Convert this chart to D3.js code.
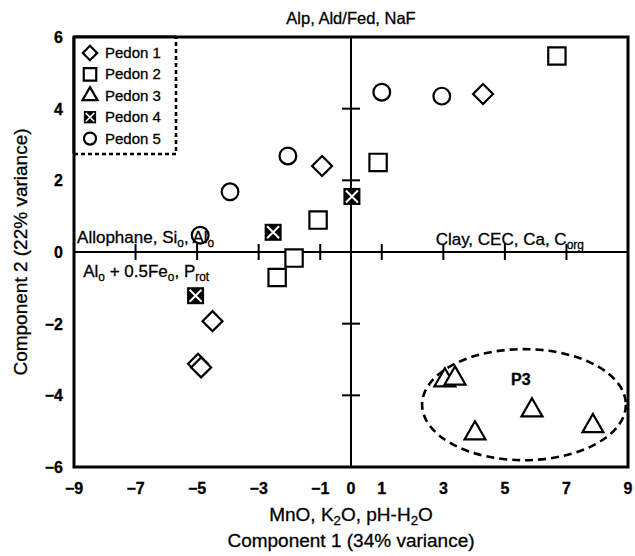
<!DOCTYPE html>
<html><head><meta charset="utf-8">
<script src="https://cdn.jsdelivr.net/npm/d3@7"></script>
<style>body{margin:0;background:#fff} text{font-family:"Liberation Sans",Arial,Helvetica,sans-serif;fill:#000;stroke:#000;stroke-width:0.3px}</style>
</head><body><svg id="c" width="635" height="556"></svg>
<script>
// ---- data ----
const xTickLabels = [-9,-7,-5,-3,-1,0,1,3,5,7,9];
const yTickLabels = [-6,-4,-2,0,2,4,6];
const xInnerTicks = [-7,-5,-3,-1,1,3,5,7];
const yInnerTicks = [-4,-2,2,4];
const pedon1 = [[4.29,4.41],[-0.94,2.4],[-4.5,-1.93],[-4.97,-3.12],[-4.87,-3.22]];
const pedon2 = [[6.69,5.47],[0.88,2.5],[-1.07,0.89],[-1.85,-0.17],[-2.4,-0.71]];
const pedon3 = [[3.05,-3.58],[3.38,-3.53],[5.88,-4.42],[4.03,-5.06],[7.86,-4.86]];
const pedon4 = [[0.03,1.55],[-2.53,0.55],[-5.05,-1.22]];
const pedon5 = [[1.0,4.46],[2.95,4.35],[-2.05,2.68],[-3.93,1.68],[-4.9,0.47]];
const legendLabels = ["Pedon 1","Pedon 2","Pedon 3","Pedon 4","Pedon 5"];
const symbolKinds = ["diamond","square","triangle","xsquare","circle"];
const p3Ellipse = {cx:5.62, cy:-4.26, rx:3.31, ry:1.55};

// ---- setup ----
const svg = d3.select("#c");
const L=74,R=628,T=37,B=467;
const x = d3.scaleLinear().domain([-9,9]).range([L,R]);
const y = d3.scaleLinear().domain([-6,6]).range([B,T]);

function drawSymbol(g, kind, s){
  if(kind==="diamond"){
    g.append("path").attr("d",d3.symbol(d3.symbolSquare,200*s*s)()).attr("transform","rotate(45)")
      .attr("fill","#fff").attr("stroke","#000").attr("stroke-width",2.2);
  } else if(kind==="square"){
    g.append("path").attr("d",d3.symbol(d3.symbolSquare,300*s*s)())
      .attr("fill","#fff").attr("stroke","#000").attr("stroke-width",2.2);
  } else if(kind==="triangle"){
    g.append("path").attr("d",d3.symbol(d3.symbolTriangle,190*s*s)())
      .attr("fill","#fff").attr("stroke","#000").attr("stroke-width",2.2);
  } else if(kind==="circle"){
    g.append("path").attr("d",d3.symbol(d3.symbolCircle,220*s*s)())
      .attr("fill","#fff").attr("stroke","#000").attr("stroke-width",2.2);
  } else if(kind==="xsquare"){
    const h=8.5*s, k=6*s;
    g.append("rect").attr("x",-h).attr("y",-h).attr("width",2*h).attr("height",2*h).attr("fill","#000");
    g.append("path").attr("d",`M${-k},${-k}L${k},${k}M${-k},${k}L${k},${-k}`)
      .attr("stroke","#fff").attr("stroke-width",2*s);
  }
}

// zero lines
svg.append("line").attr("x1",x(-9)).attr("x2",x(9)).attr("y1",y(0)).attr("y2",y(0)).attr("stroke","#000").attr("stroke-width",2);
svg.append("line").attr("x1",x(0)).attr("x2",x(0)).attr("y1",y(-6)).attr("y2",y(6)).attr("stroke","#000").attr("stroke-width",2);
svg.selectAll(".xt").data(xInnerTicks).enter().append("line")
  .attr("x1",d=>x(d)).attr("x2",d=>x(d)).attr("y1",y(0)-8).attr("y2",y(0)+8).attr("stroke","#000").attr("stroke-width",2);
svg.selectAll(".yt").data(yInnerTicks).enter().append("line")
  .attr("y1",d=>y(d)).attr("y2",d=>y(d)).attr("x1",x(0)-9).attr("x2",x(0)+9).attr("stroke","#000").attr("stroke-width",2);

// ellipse
svg.append("ellipse").attr("cx",x(p3Ellipse.cx)).attr("cy",y(p3Ellipse.cy))
  .attr("rx",x(p3Ellipse.cx+p3Ellipse.rx)-x(p3Ellipse.cx))
  .attr("ry",y(p3Ellipse.cy-p3Ellipse.ry)-y(p3Ellipse.cy))
  .attr("fill","none").attr("stroke","#000").attr("stroke-width",2.6).attr("stroke-dasharray","8,5");
svg.append("text").attr("x",x(p3Ellipse.cx-0.1)).attr("y",y(p3Ellipse.cy+0.55)).attr("text-anchor","middle")
  .attr("font-size",16).attr("font-weight","bold").text("P3");

// points
[pedon1,pedon2,pedon3,pedon4,pedon5].forEach((arr,i)=>{
  arr.forEach(p=>{
    const g=svg.append("g").attr("transform",`translate(${x(p[0])},${y(p[1])})`);
    drawSymbol(g,symbolKinds[i],1);
  });
});

// annotation labels with subscripts (drawn over the points, as in the reference)
function subText(xp, yp, parts, size, anchor){
  const t=svg.append("text").attr("x",xp).attr("y",yp).attr("font-size",size).attr("text-anchor",anchor||"start");
  let off=0;
  parts.forEach(p=>{
    if(typeof p==="string"){
      t.append("tspan").attr("dy",-off).text(p); off=0;
    } else {
      t.append("tspan").attr("dy",p.dy-off).attr("font-size",size*0.7).text(p.s); off=p.dy;
    }
  });
  return t;
}
subText(x(-8.9), y(0)-9, ["Allophane, Si",{s:"o",dy:4},", Al",{s:"o",dy:4}], 17);
subText(x(-8.7), y(0)+25, ["Al",{s:"o",dy:4}," + 0.5Fe",{s:"o",dy:4},", P",{s:"rot",dy:4}], 17);
subText(x(2.75), y(0)-7, ["Clay, CEC, Ca, C",{s:"org",dy:4}], 17);
svg.append("text").attr("x",x(0)).attr("y",24).attr("text-anchor","middle").attr("font-size",16.5).text("Alp, Ald/Fed, NaF");
subText(x(0), 521, ["MnO, K",{s:"2",dy:4},"O, pH-H",{s:"2",dy:4},"O"], 19, "middle");
svg.append("text").attr("x",x(0)).attr("y",547).attr("text-anchor","middle").attr("font-size",19).text("Component 1 (34% variance)");
svg.append("text").attr("transform",`translate(27,${(T+B)/2})rotate(-90)`).attr("text-anchor","middle").attr("font-size",19).text("Component 2 (22% variance)");

// tick labels
svg.selectAll(".xl").data(xTickLabels).enter().append("text")
  .attr("x",d=>x(d)).attr("y",B+27).attr("text-anchor","middle").attr("font-size",16).attr("font-weight","bold")
  .text(d=>d<0?"\u2212"+Math.abs(d):d);
svg.selectAll(".yl").data(yTickLabels).enter().append("text")
  .attr("x",L-11).attr("y",d=>y(d)+6).attr("text-anchor","end").attr("font-size",16).attr("font-weight","bold")
  .text(d=>d<0?"\u2212"+Math.abs(d):d);

// frame
svg.append("rect").attr("x",L).attr("y",T).attr("width",R-L).attr("height",B-T).attr("fill","none").attr("stroke","#000").attr("stroke-width",3);

// legend
const lg=svg.append("g");
lg.append("rect").attr("x",L).attr("y",T).attr("width",102).attr("height",117).attr("fill","#fff");
lg.append("path").attr("d",`M${L},${T+117}H${L+102}V${T}`).attr("fill","none").attr("stroke","#000").attr("stroke-width",2.6).attr("stroke-dasharray","4,3");
svg.append("line").attr("x1",L).attr("x2",L+102).attr("y1",T).attr("y2",T).attr("stroke","#000").attr("stroke-width",3);
svg.append("line").attr("x1",L).attr("x2",L).attr("y1",T).attr("y2",T+117).attr("stroke","#000").attr("stroke-width",3);
legendLabels.forEach((lab,i)=>{
  const yy=T+16+i*21.4;
  const g=lg.append("g").attr("transform",`translate(${L+16},${yy})`);
  drawSymbol(g,symbolKinds[i],0.72);
  lg.append("text").attr("x",L+31).attr("y",yy+5).attr("font-size",15).text(lab);
});
</script></body></html>
